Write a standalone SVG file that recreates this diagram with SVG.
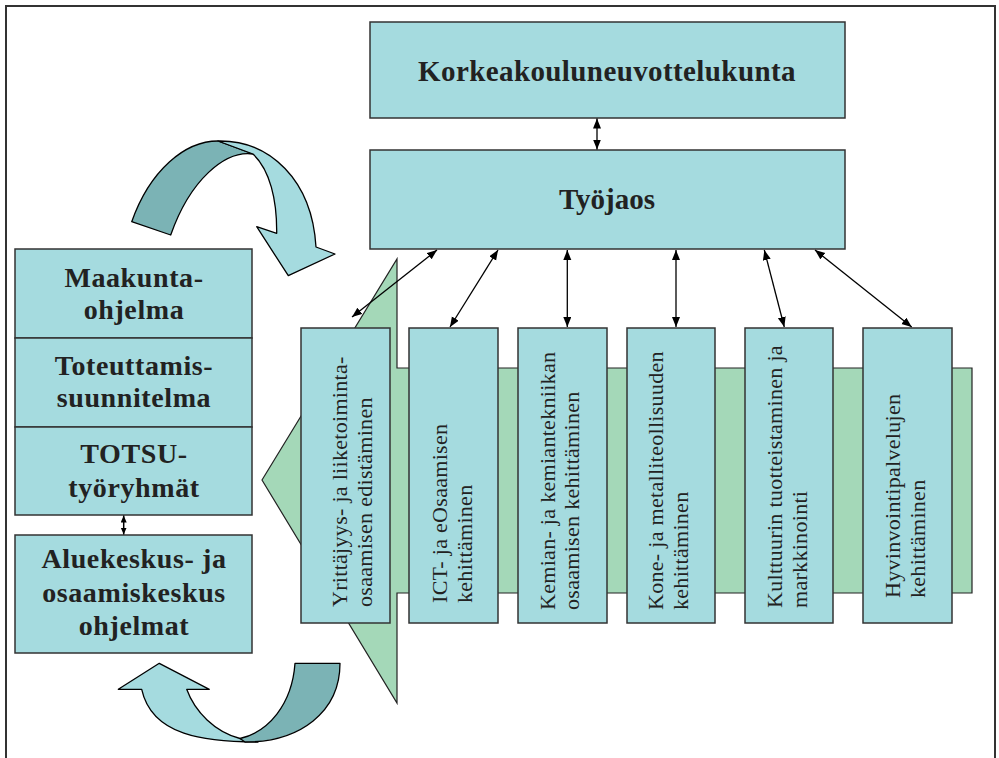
<svg xmlns="http://www.w3.org/2000/svg" width="999" height="758" viewBox="0 0 999 758">
<defs>
<style>
.box{fill:#a5dbdf;stroke:#333;stroke-width:1.5}
.hd{font-family:"Liberation Serif",serif;font-weight:bold;font-size:28px;fill:#222;text-anchor:middle;letter-spacing:0.6px}
.top{font-family:"Liberation Serif",serif;font-weight:bold;font-size:29px;fill:#222;text-anchor:middle}
.vt{font-family:"Liberation Serif",serif;font-size:22px;fill:#222;letter-spacing:0.3px}
.con{stroke:#000;stroke-width:1.3;fill:none;marker-start:url(#ah);marker-end:url(#ah)}
.con2{stroke:#000;stroke-width:1.5;fill:none;marker-start:url(#ah2);marker-end:url(#ah2)}
.lt{fill:#a5dbdf;stroke:#000;stroke-width:1.3;stroke-linejoin:round}
.dk{fill:#7bb3b5;stroke:#000;stroke-width:1.3;stroke-linejoin:round}
</style>
<marker id="ah" markerUnits="userSpaceOnUse" markerWidth="11" markerHeight="9" refX="10" refY="4" orient="auto-start-reverse" viewBox="0 0 11 9">
<path d="M0,0 L10,4 L0,8 z" fill="#000"/>
</marker>
<marker id="ah2" markerUnits="userSpaceOnUse" markerWidth="8" markerHeight="7" refX="7" refY="3" orient="auto-start-reverse" viewBox="0 0 8 7">
<path d="M0,0 L7,3 L0,6 z" fill="#000"/>
</marker>
</defs>
<rect width="999" height="758" fill="#fff"/>
<path d="M6,760 V6 H995 V760" fill="none" stroke="#333" stroke-width="2"/>

<g id="green-arrow">
<path d="M262,480 L397,259 L397,368 L972,368 L972,593 L397,593 L397,703 Z" fill="#a4d8b8" stroke="#222" stroke-width="1.2"/>
</g>

<g id="cycle-arrow-top">
<path class="dk" d="M131.7,221.7 C150,170 185,141 218,141 L253,154 C225,150 190,180 170.7,235 Z"/>
<path class="lt" d="M218,141 C270,140 312,180 316,247 L335,254 L288.3,275.7 L256.7,226.7 L276.7,233.3 C277,200 270,170 253,154 Z"/>
</g>
<g id="cycle-arrow-bottom">
<path class="lt" d="M159.3,663.3 L209.3,689.3 L186.7,689.3 C195,712 215,732 240,738.5 L258,742 C205,742 152,736 141.7,689.3 L118.3,689.3 Z"/>
<path class="dk" d="M295,663.3 L340,663.3 C340,712 300,742 245,742 L240,738.5 C268,732 292,705 295,663.3 Z"/>
</g>

<g id="korkeakouluneuvottelukunta">
<rect class="box" x="370" y="22" width="475" height="96"/>
<text class="top" x="607" y="81" style="letter-spacing:0.4px">Korkeakouluneuvottelukunta</text>
</g>
<g id="tyojaos">
<rect class="box" x="370" y="150" width="475" height="99"/>
<text class="top" x="607" y="209">Työjaos</text>
</g>

<g id="maakuntaohjelma">
<rect class="box" x="15" y="249" width="237" height="89"/>
<text class="hd" x="134" y="287">Maakunta-</text>
<text class="hd" x="134" y="319">ohjelma</text>
</g>
<g id="toteuttamissuunnitelma">
<rect class="box" x="15" y="338" width="237" height="89"/>
<text class="hd" x="134" y="375">Toteuttamis-</text>
<text class="hd" x="134" y="407">suunnitelma</text>
</g>
<g id="totsu">
<rect class="box" x="15" y="427" width="237" height="88"/>
<text class="hd" x="134" y="463">TOTSU-</text>
<text class="hd" x="134" y="497">työryhmät</text>
</g>
<g id="aluekeskus">
<rect class="box" x="15" y="535" width="237" height="118"/>
<text class="hd" x="134" y="568">Aluekeskus- ja</text>
<text class="hd" x="134" y="602">osaamiskeskus</text>
<text class="hd" x="134" y="635">ohjelmat</text>
</g>

<g id="yrittajyys">
<rect class="box" x="301" y="328" width="89" height="295"/>
<text class="vt" transform="translate(347,607) rotate(-90)"><tspan x="0" y="0">Yrittäjyys- ja liiketoiminta-</tspan><tspan x="0" y="25">osaamisen edistäminen</tspan></text>
</g>
<g id="ict">
<rect class="box" x="409" y="328" width="89" height="295"/>
<text class="vt" transform="translate(447,603) rotate(-90)"><tspan x="0" y="0">ICT- ja eOsaamisen</tspan><tspan x="0" y="25">kehittäminen</tspan></text>
</g>
<g id="kemia">
<rect class="box" x="518" y="328" width="89" height="295"/>
<text class="vt" transform="translate(555,610) rotate(-90)"><tspan x="0" y="0">Kemian- ja kemiantekniikan</tspan><tspan x="0" y="24">osaamisen kehittäminen</tspan></text>
</g>
<g id="kone">
<rect class="box" x="627" y="328" width="88" height="295"/>
<text class="vt" transform="translate(663,610) rotate(-90)"><tspan x="0" y="0">Kone- ja metalliteollisuuden</tspan><tspan x="0" y="25">kehittäminen</tspan></text>
</g>
<g id="kulttuuri">
<rect class="box" x="745" y="328" width="88" height="295"/>
<text class="vt" transform="translate(782,608) rotate(-90)"><tspan x="0" y="0">Kulttuurin tuotteistaminen ja</tspan><tspan x="0" y="25">markkinointi</tspan></text>
</g>
<g id="hyvinvointi">
<rect class="box" x="863" y="328" width="89" height="295"/>
<text class="vt" transform="translate(900,598) rotate(-90)"><tspan x="0" y="0">Hyvinvointipalvelujen</tspan><tspan x="0" y="25">kehittäminen</tspan></text>
</g>

<g id="connectors">
<line class="con" x1="597" y1="118.5" x2="597" y2="149.5"/>
<line class="con" x1="437" y1="250" x2="352" y2="317"/>
<line class="con" x1="498" y1="250" x2="450" y2="327"/>
<line class="con" x1="567.3" y1="250" x2="567.3" y2="327"/>
<line class="con" x1="676" y1="250" x2="676" y2="327"/>
<line class="con" x1="764.3" y1="250" x2="784.3" y2="327"/>
<line class="con" x1="815" y1="250" x2="911.7" y2="327"/>
<line class="con2" x1="123.7" y1="515.5" x2="123.7" y2="534.5"/>
</g>
</svg>
